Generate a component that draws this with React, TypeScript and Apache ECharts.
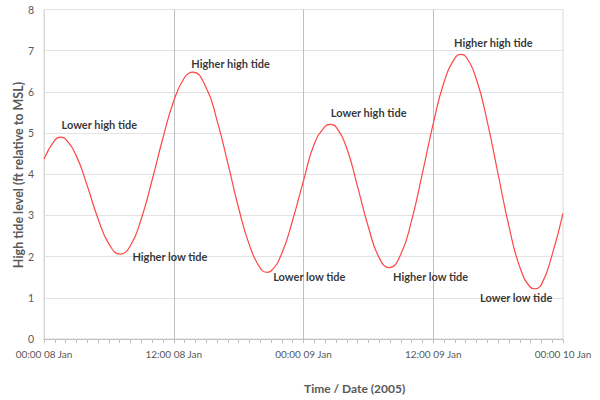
import React, { useEffect, useRef } from "react";
import * as echarts from "echarts";

// Hours since 00:00 08 Jan 2005
const xTickHours = [0, 12, 24, 36, 48];
const xTickLabels = ["00:00 08 Jan", "12:00 08 Jan", "00:00 09 Jan", "12:00 09 Jan", "00:00 10 Jan"];

// Readings of the tide level (ft relative to MSL): hourly values plus the high/low turning points
const tideHours = [
  0, 1, 1.54, 2, 3, 4, 5, 6, 7.05, 8, 9, 10, 11, 12, 13, 13.75,
  15, 16, 17, 18, 19, 20, 20.64, 21, 22, 23, 24, 25, 26, 26.47,
  27, 28, 29, 30, 31, 31.93, 33, 34, 35, 36, 37, 38, 38.55,
  39, 40, 41, 42, 43, 44, 45, 45.35, 46, 47, 48,
];
const tideLevels = [
  4.37, 4.83, 4.9, 4.85, 4.44, 3.72, 2.92, 2.31, 2.06, 2.27, 2.92, 3.86, 4.88, 5.78, 6.35, 6.48,
  6.1, 5.31, 4.27, 3.18, 2.28, 1.72, 1.62, 1.65, 2.08, 2.89, 3.84, 4.74, 5.16, 5.21,
  5.15, 4.63, 3.7, 2.72, 1.97, 1.73, 2.06, 2.88, 4.03, 5.23, 6.24, 6.82, 6.91,
  6.86, 6.3, 5.27, 4.0, 2.74, 1.75, 1.25, 1.22, 1.32, 2.05, 3.05,
];

const noteTexts = [
  "Lower high tide",
  "Higher low tide",
  "Higher high tide",
  "Lower low tide",
  "Lower high tide",
  "Higher low tide",
  "Higher high tide",
  "Lower low tide",
];
const noteHours = [1.57, 8.13, 13.58, 21.15, 26.48, 32.24, 37.88, 40.28];
const noteLevels = [5.2, 2.01, 6.68, 1.51, 5.49, 1.51, 7.2, 1.0];

const yTicks = [0, 1, 2, 3, 4, 5, 6, 7, 8];

const FONT = "Lato, 'Open Sans', sans-serif";

export default function App() {
  const ref = useRef<HTMLDivElement>(null);

  useEffect(() => {
    if (!ref.current) return;
    const chart = echarts.init(ref.current, undefined, { renderer: "svg" });
    const option = {
      animation: false,
      backgroundColor: "#ffffff",
      grid: {
        left: 44,
        right: 37,
        top: 9.5,
        bottom: 61,
        show: true,
        borderColor: "#d9d9d9",
        borderWidth: 1,
      },
      xAxis: {
        type: "value",
        min: xTickHours[0],
        max: xTickHours[xTickHours.length - 1],
        interval: 12,
        axisLine: { show: true, lineStyle: { color: "#bfbfbf", width: 1 } },
        axisTick: { show: true, length: 4, lineStyle: { color: "#bfbfbf" } },
        minorTick: { show: true, splitNumber: 12, length: 4, lineStyle: { color: "#bfbfbf" } },
        splitLine: {
          show: true,
          showMinLine: false,
          showMaxLine: false,
          lineStyle: { color: "#bfbfbf", width: 1 },
        },
        axisLabel: {
          color: "#595959",
          fontSize: 10,
          fontFamily: FONT,
          margin: 10,
          formatter: (v: number) => {
            const i = xTickHours.indexOf(v);
            return i >= 0 ? xTickLabels[i] : "";
          },
        },
      },
      yAxis: {
        type: "value",
        min: yTicks[0],
        max: yTicks[yTicks.length - 1],
        interval: 1,
        axisLine: { show: true, lineStyle: { color: "#d9d9d9" } },
        axisTick: { show: false },
        splitLine: { show: true, lineStyle: { color: "#e3e3e3", width: 1 } },
        axisLabel: {
          color: "#595959",
          fontSize: 10.5,
          fontFamily: FONT,
          margin: 10,
        },
      },
      graphic: [
        {
          type: "text",
          x: 18.5,
          y: 175,
          rotation: Math.PI / 2,
          style: {
            text: "High tide level (ft relative to MSL)",
            align: "center",
            verticalAlign: "middle",
            fontSize: 12.5,
            fontWeight: "bold",
            fontFamily: FONT,
            fill: "#595959",
          },
        },
        {
          type: "text",
          x: 304,
          y: 388,
          style: {
            text: "Time / Date (2005)",
            align: "left",
            verticalAlign: "middle",
            fontSize: 12,
            fontWeight: "bold",
            fontFamily: FONT,
            fill: "#595959",
          },
        },
      ],
      series: [
        {
          type: "line",
          data: tideHours.map((h, i) => [h, tideLevels[i]]),
          smooth: 0.5,
          showSymbol: false,
          symbol: "none",
          lineStyle: { color: "#ff4545", width: 1.2 },
          silent: true,
          z: 3,
        },
        {
          type: "scatter",
          data: noteHours.map((h, i) => [h, noteLevels[i]]),
          symbolSize: 1,
          itemStyle: { color: "rgba(0,0,0,0)" },
          silent: true,
          z: 4,
          label: {
            show: true,
            position: "right",
            distance: 0,
            color: "#000000",
            fontSize: 11,
            fontWeight: "bold",
            fontFamily: FONT,
            formatter: (p: any) => noteTexts[p.dataIndex],
          },
        },
      ],
    };
    chart.setOption(option as any);
    return () => chart.dispose();
  }, []);

  return <div ref={ref} style={{ width: 600, height: 400, position: "absolute", left: 0, top: 0 }} />;
}
